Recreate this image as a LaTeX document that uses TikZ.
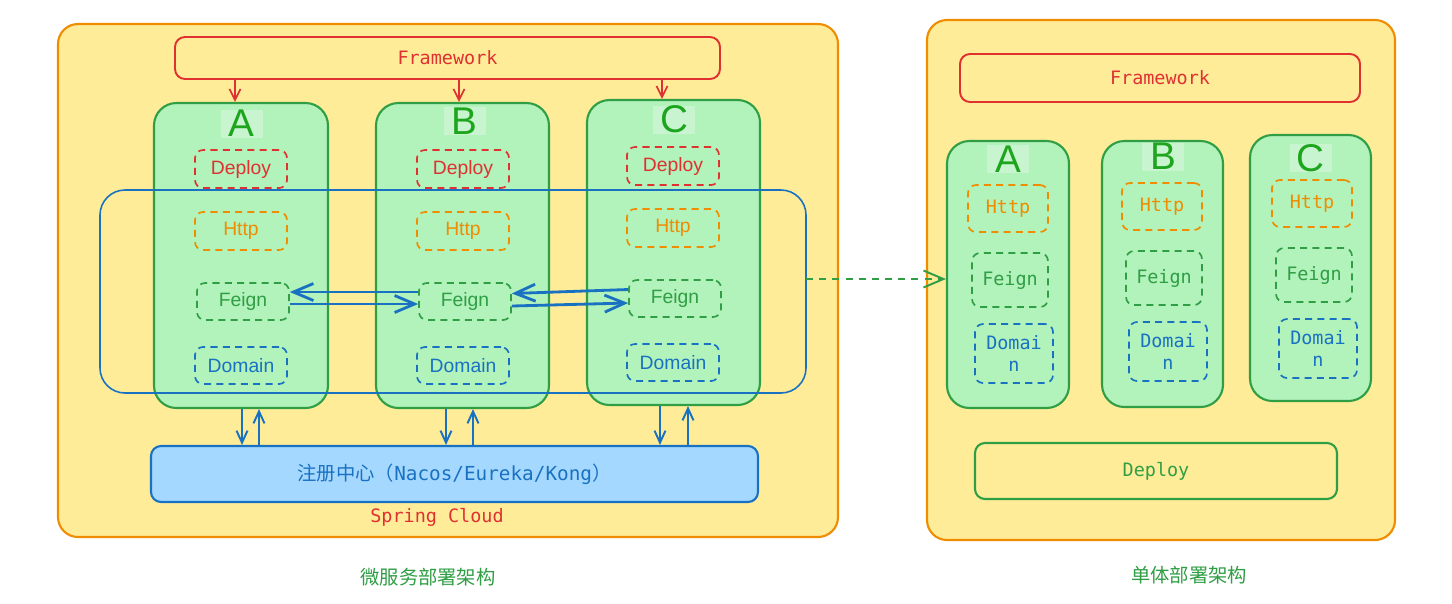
\documentclass[tikz,border=0pt]{standalone}
\usepackage{fontspec}
\setmainfont{Liberation Sans}
\setmonofont{DejaVu Sans Mono}
\newfontfamily\cjk{Noto Sans CJK SC}
\usetikzlibrary{arrows.meta,positioning}
\definecolor{PanelYellow}{HTML}{FFEC99}
\definecolor{PanelOrange}{HTML}{F08C00}
\definecolor{FrameRed}{HTML}{E03131}
\definecolor{SvcGreen}{HTML}{B2F2BB}
\definecolor{LeafGreen}{HTML}{2F9E44}
\definecolor{TagTint}{HTML}{C8F5CF}
\definecolor{LetterGreen}{HTML}{1EA51E}
\definecolor{HttpOrange}{HTML}{F08C00}
\definecolor{CloudBlue}{HTML}{1971C2}
\definecolor{RegBlue}{HTML}{A5D8FF}

\begin{document}
\begin{tikzpicture}[x=0.02cm,y=-0.02cm,
      box/.style n args={4}{minimum width={((#3)-(#1))*0.02cm},minimum height={((#4)-(#2))*0.02cm},
      at={({((#1)+(#3))/2},{((#2)+(#4))/2})}},
      panel/.style={draw=PanelOrange,fill=PanelYellow,line width=1.2pt,
      rounded corners=0.4cm,inner sep=0},
      frame/.style={draw=FrameRed,fill=PanelYellow,line width=1.1pt,rounded corners=0.2cm,
      inner sep=0,text=FrameRed,font=\ttfamily\fontsize{10.5}{12}\selectfont},
      svc/.style={draw=LeafGreen,fill=SvcGreen,line width=1.2pt,rounded corners=0.45cm,inner sep=0},
      tag/.style={fill=TagTint,inner sep=0,minimum width=0.84cm,minimum height=0.56cm,
      text=LetterGreen,font=\fontsize{22}{24}\selectfont},
      layer/.style={dash pattern=on 4pt off 3pt,line width=0.95pt,rounded corners=0.16cm,
      inner sep=0,font=\fontsize{11}{12}\selectfont},
      mlayer/.style={layer,font=\ttfamily\fontsize{10.5}{13}\selectfont,align=center},
      feed/.style={-{Straight Barb[length=2.2mm,width=2.2mm]},FrameRed,line width=1pt},
      call/.style={-{Straight Barb[length=4mm,width=3.4mm]},CloudBlue,line width=1.6pt},
      link/.style={-{Straight Barb[length=2.4mm,width=2.2mm]},CloudBlue,line width=1.1pt},
      move/.style={-{Straight Barb[length=4mm,width=3.4mm]},LeafGreen,line width=1.1pt,
      dash pattern=on 4pt off 3.5pt}]
  \path[use as bounding box,fill=white] (0,0) rectangle (1452,603);

  % microservice deployment
  \node[panel,box={58}{24}{838}{537}] (micro) {};
  \node[frame,box={175}{37}{720}{79}] (fw) {Framework};
  \node[svc,box={154}{103}{328}{408}] (A) {};
  \node[svc,box={376}{103}{549}{408}] (B) {};
  \node[svc,box={587}{100}{760}{405}] (C) {};
  \node[tag] (tA) at (241.5,123.5) {A};
  \node[tag] (tB) at (464.5,121) {B};
  \node[tag] (tC) at (674,119.5) {C};
  \foreach \s/\x/\y in {A/195/150,B/417/150,C/627/147}{
    \node[layer,draw=FrameRed,text=FrameRed,box={\x}{\y}{\x+92}{\y+38}] (d\s) {Deploy};
    \node[layer,draw=HttpOrange,text=HttpOrange,box={\x}{\y+62}{\x+92}{\y+100}] (h\s) {Http};
    \node[layer,draw=LeafGreen,text=LeafGreen,box={\x+2}{\y+133}{\x+94}{\y+170}] (f\s) {Feign};
    \node[layer,draw=CloudBlue,text=CloudBlue,box={\x}{\y+197}{\x+92}{\y+234}] (m\s) {Domain};
  }
  \draw[CloudBlue,line width=0.9pt,rounded corners=0.5cm] (100,190) rectangle (806,393);
  \coordinate (cloud) at (806,279);
  \foreach \s/\x in {A/235,B/459,C/662}
    \draw[feed] (fw.south -| \x,0) -- (\s.north -| \x,0);

  \draw[call] ([yshift=0.19cm]fB.west) -- ([yshift=0.19cm]fA.east);
  \draw[call] ([yshift=-0.05cm]fA.east) -- ([yshift=-0.05cm]fB.west);
  \draw[call] ([yshift=0.18cm]fC.west) -- ([yshift=0.16cm]fB.east);
  \draw[call] ([yshift=-0.09cm]fB.east) -- ([yshift=-0.09cm]fC.west);

  \node[draw=CloudBlue,fill=RegBlue,line width=1.2pt,rounded corners=0.2cm,inner sep=0,
    text=CloudBlue,font=\fontsize{11}{13}\selectfont,box={151}{446}{758}{502}] (reg)
    {{\cjk 注册中心（}{\ttfamily Nacos/Eureka/Kong}{\cjk ）}};
  \node[text=FrameRed,font=\ttfamily\fontsize{10.5}{12}\selectfont] (sc) at (437,517) {Spring Cloud};
  \foreach \s/\d/\u in {A/242/259,B/446/473,C/660/688}{
    \draw[link] (\s.south -| \d,0) -- (reg.north -| \d,0);
    \draw[link] (reg.north -| \u,0) -- (\s.south -| \u,0);
  }
  \node[text=LeafGreen,font=\cjk\fontsize{11}{13}\selectfont] (cap1) at (428,577) {微服务部署架构};

  % monolithic deployment
  \node[panel,box={927}{20}{1395}{540}] (mono) {};
  \node[frame,box={960}{54}{1360}{102}] (fw2) {Framework};
  \node[svc,box={947}{141}{1069}{408}] (RA) {};
  \node[svc,box={1102}{141}{1223}{407}] (RB) {};
  \node[svc,box={1250}{135}{1371}{401}] (RC) {};
  \node[tag] (rtA) at (1008,159) {A};
  \node[tag] (rtB) at (1163,156.5) {B};
  \node[tag] (rtC) at (1310.5,158) {C};
  \foreach \s/\x/\y in {A/968/185,B/1122/183,C/1272/180}{
    \node[mlayer,draw=HttpOrange,text=HttpOrange,box={\x}{\y}{\x+80}{\y+47}] (rh\s) {Http};
    \node[mlayer,draw=LeafGreen,text=LeafGreen,box={\x+4}{\y+68}{\x+80}{\y+122}] (rf\s) {Feign};
    \node[mlayer,draw=CloudBlue,text=CloudBlue,box={\x+7}{\y+139}{\x+85}{\y+198}] (rm\s) {Domai\\n};
  }
  \node[draw=LeafGreen,fill=PanelYellow,line width=1.2pt,rounded corners=0.2cm,inner sep=0,
    text=LeafGreen,font=\ttfamily\fontsize{10.5}{12}\selectfont,box={975}{443}{1337}{499}] (dep) {Deploy};
  \node[text=LeafGreen,font=\cjk\fontsize{11}{13}\selectfont] (cap2) at (1189,575) {单体部署架构};

  \draw[move] (cloud) -- (RA.west |- cloud);
\end{tikzpicture}
\end{document}
